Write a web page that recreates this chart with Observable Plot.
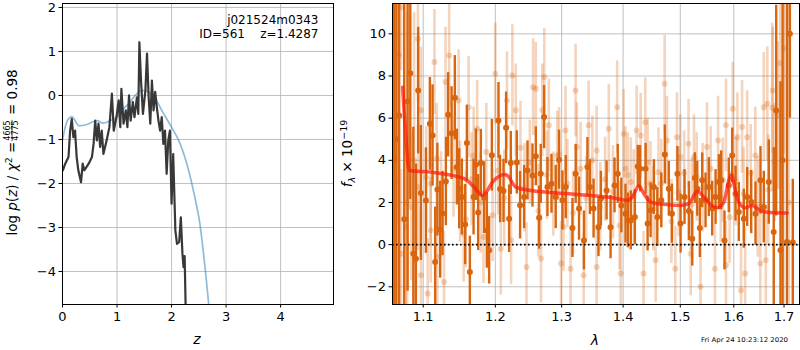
<!DOCTYPE html>
<html><head><meta charset="utf-8">
<script src="https://cdn.jsdelivr.net/npm/d3@7"></script>
<script src="https://cdn.jsdelivr.net/npm/@observablehq/plot@0.6"></script>
<style>
body{margin:0;background:#fff}
#wrap{position:relative;width:800px;height:350px;font-family:"DejaVu Sans",sans-serif;background:#fff}
#wrap > svg{position:absolute;top:0}
</style>
</head><body><div id="wrap"></div>
<script>
// ---------- Left panel data: log p(z) ----------
const pzZ = [0.007,0.05,0.11,0.14,0.17,0.20,0.23,0.26,0.29,0.34,0.37,0.40,0.48,0.54,0.57,0.60,0.63,0.66,0.69,0.72,0.75,0.81,0.86,0.906,0.94,0.99,1.03,1.06,1.08,1.12,1.16,1.19,1.22,1.25,1.29,1.32,1.365,1.39,1.41,1.44,1.475,1.52,1.55,1.58,1.61,1.64,1.67,1.70,1.73,1.76,1.79,1.82,1.85,1.88,1.91,1.94,1.97,2.0,2.03,2.07,2.10,2.14,2.17,2.20,2.22,2.24,2.26];
const pzLog = [-1.70,-1.55,-1.40,-0.80,-0.53,-0.95,-0.80,-1.40,-1.70,-1.97,-1.55,-1.70,-1.55,-1.40,-1.10,-0.57,-1.02,-0.64,-1.17,-0.80,-1.33,-1.02,-0.72,0.04,-0.80,-0.49,-0.11,-0.72,0.15,-0.64,-0.34,-0.72,0.0,-0.57,-0.15,-0.49,-0.04,-0.42,1.21,0.34,-0.42,0.11,0.95,-0.04,-0.64,0.34,-0.34,0.08,-0.27,-0.57,-0.80,-0.49,-1.10,-0.80,-1.78,-1.02,-0.80,-2.46,-1.33,-3.07,-3.37,-3.33,-2.77,-3.6,-3.9,-3.65,-4.9];
const priorZ = [0,0.05,0.11,0.17,0.23,0.29,0.45,0.63,0.75,0.875,1.0,1.09,1.24,1.365,1.46,1.58,1.70,1.82,1.98,2.13,2.28,2.40,2.51,2.60,2.68,2.72];
const priorLog = [-1.02,-0.72,-0.53,-0.48,-0.57,-0.68,-0.66,-0.57,-0.63,-0.57,-0.49,-0.34,-0.15,0.04,0.11,0.08,-0.07,-0.34,-0.68,-1.02,-1.55,-2.16,-2.84,-3.75,-4.73,-5.3];
const zTicks = [0,1,2,3,4];
const logTicks = [-4,-3,-2,-1,0,1,2];

// ---------- Right panel data: spectrum ----------
// [wavelength (micron), flux (1e-19), error]
const darkSpec = [
[1.0622,4,20],[1.0650,5,20],[1.0685,6.13,15],[1.0751,1.2,12],[1.0795,6.79,9],[1.0830,8.13,6],[1.0870,-0.43,6],[1.0904,-0.67,4.5],[1.0934,7.31,3],[1.0969,2.45,3.2],
[1.1036,2.09,2.5],[1.1089,5.73,2.2],[1.1125,5.18,2.4],[1.1160,-0.82,2.6],[1.1190,2.61,2.2],[1.1228,0.71,2.3],[1.1260,1.48,2.0],[1.1305,3.0,2.1],[1.1336,6.16,2.0],[1.1383,5.29,2.2],
[1.1428,6.97,2.0],[1.1456,3.68,1.8],[1.1488,2.65,1.9],[1.1525,2.26,1.8],[1.1571,0.95,1.9],[1.1595,4.82,1.8],[1.1637,-1.3,1.7],[1.1689,2.26,1.8],[1.1721,3.79,1.7],[1.1754,1.52,1.8],
[1.1792,3.87,1.6],[1.1839,2.23,1.7],[1.1878,0.68,1.8],[1.1911,-0.27,1.6],[1.1950,4.24,1.7],[1.2046,5.89,1.8],[1.2069,2.64,1.6],[1.2119,2.55,1.5],[1.2157,5.54,1.7],[1.2201,1.23,1.6],
[1.2226,3.87,1.5],[1.2315,3.9,1.5],[1.2364,1.87,1.6],[1.2424,2.26,1.5],[1.2475,3.52,1.4],[1.2550,3.28,1.5],[1.2601,4.19,1.4],[1.2651,1.28,1.5],[1.2676,3.36,1.4],[1.2727,6.05,1.5],
[1.2779,2.73,1.4],[1.2841,2.89,1.4],[1.2907,2.26,1.5],[1.2959,4.03,1.4],[1.3012,2.1,1.4],[1.3064,2.73,1.5],[1.3170,0.79,1.4],[1.3222,3.36,1.4],[1.3275,1.71,1.5],
[1.3354,0.2,1.4],[1.3410,3.68,1.4],[1.3450,2.73,1.3],[1.3510,1.71,1.4],[1.3590,0.83,1.4],[1.3630,2.18,1.3],[1.3724,2.57,1.4],[1.3790,0.83,1.5],[1.3856,2.81,1.3],[1.3910,3.36,1.4],
[1.3970,1.86,1.3],[1.4040,1.47,1.4],[1.4080,1.15,1.3],[1.4130,1.15,1.4],[1.4200,1.31,1.3],[1.4250,3.71,1.0],[1.4290,3.6,1.1],[1.4385,3.6,1.2],[1.4420,1.0,1.3],[1.4472,1.63,1.3],
[1.4530,2.73,1.3],[1.4590,1.31,1.4],[1.4660,2.1,1.3],[1.4723,4.28,1.4],[1.4794,2.65,1.3],[1.4850,1.47,1.4],[1.4948,3.36,1.3],[1.5005,1.0,1.4],[1.5077,2.26,1.3],[1.5156,1.59,1.4],
[1.5218,0.28,1.3],[1.5266,3.16,1.2],[1.5310,2.65,1.3],[1.5358,0.79,1.4],[1.5402,3.05,1.3],[1.5464,2.1,1.3],[1.5526,2.73,1.4],[1.5589,1.71,1.3],[1.5652,2.26,1.3],[1.5715,2.97,1.3],
[1.5759,3.05,1.4],[1.5822,0.2,1.4],[1.5904,2.81,1.3],[1.5969,4.23,1.3],[1.6033,2.42,1.3],[1.6097,1.55,1.4],[1.6195,1.23,1.4],[1.6261,2.26,1.4],[1.6340,2.02,1.5],[1.6425,1.47,1.5],
[1.6524,3.05,1.6],[1.6590,1.78,1.7],[1.6690,2.97,2.0],[1.6790,0.6,4],[1.6840,6.36,5],[1.6927,-0.27,8],[1.6970,4.0,12],[1.7060,0.12,15],[1.7120,10,4],[1.7180,0.1,3.0]
];
const lightSpec = [
[1.063,3,12],[1.068,9,8],[1.071,11.26,3],[1.071,-0.43,4],[1.077,0.84,4],[1.079,2,9],[1.084,1.79,3.5],[1.088,4,7],[1.093,9.76,3],[1.093,2.73,3],
[1.097,6.37,3],[1.097,-1.45,3],[1.104,3.2,2.4],[1.106,-2.32,2.6],[1.110,2.89,3],[1.110,0.68,2.5],[1.115,8.66,2.5],[1.118,4.1,2.6],[1.119,-0.58,2.4],[1.124,1.9,2.5],
[1.128,-1.77,2.4],[1.130,7.71,2.6],[1.135,8.97,2.5],[1.141,3.6,2.3],[1.148,6.84,2.4],[1.150,2.5,2.4],[1.155,0.52,2.3],[1.158,1.2,2.3],[1.162,6.52,2.4],[1.166,3.1,2.2],
[1.169,4.23,2.3],[1.174,5.50,2.3],[1.179,2.0,2.4],[1.183,0.36,2.2],[1.187,4.4,2.3],[1.196,1.4,2.2],[1.200,8.11,2.4],[1.204,3.5,2.1],[1.208,-0.19,2.2],[1.213,2.2,2.3],
[1.217,6.84,2.3],[1.223,0.21,2.1],[1.225,8.03,2.4],[1.230,6.37,2.2],[1.237,4.6,2.2],[1.243,2.7,2.1],[1.246,-1.06,2.1],[1.251,3.9,2.0],[1.256,7.47,2.3],[1.260,7.39,2.2],
[1.264,1.6,2.2],[1.268,-0.66,2.1],[1.270,6.37,2.2],[1.273,7.95,2.3],[1.277,3.3,2.1],[1.280,5.66,2.2],[1.287,2.4,2.0],[1.293,4.23,2.1],[1.296,4.3,2.2],[1.299,-0.9,2.0],
[1.303,0.84,2.1],[1.306,5.42,2.1],[1.309,2.9,2.1],[1.314,-1.14,2.0],[1.318,1.5,2.0],[1.322,7.31,2.2],[1.324,4.63,2.1],[1.330,3.6,2.2],[1.335,-1.45,2.0],[1.339,2.2,2.0],
[1.343,5.66,2.1],[1.349,4.0,2.1],[1.356,4.47,2.1],[1.356,-1.06,2.0],[1.362,1.8,2.1],[1.370,3.1,2.0],[1.376,5.50,2.1],[1.383,2.5,2.2],[1.390,6.52,2.2],[1.394,0.9,2.1],
[1.396,-1.37,2.0],[1.401,5.26,2.1],[1.404,3.60,2.0],[1.408,3.3,2.0],[1.413,2.97,2.1],[1.418,2.3,2.2],[1.423,5.42,2.1],[1.430,5.18,2.0],[1.435,-1.37,2.0],[1.438,5.81,2.1],
[1.442,3.9,2.1],[1.447,2.89,2.0],[1.452,1.7,2.0],[1.456,-0.74,2.0],[1.461,3.44,2.1],[1.466,2.9,2.1],[1.472,7.63,2.3],[1.476,4.94,2.1],[1.484,1.1,2.0],[1.491,-1.14,2.0],
[1.494,5.10,2.1],[1.497,2.5,2.1],[1.500,4.16,2.0],[1.507,3.4,2.0],[1.515,4.79,2.1],[1.519,-0.43,2.0],[1.521,1.9,2.2],[1.525,4.16,2.0],[1.530,3.21,2.1],[1.537,-2.0,2.1],
[1.541,2.7,2.1],[1.549,4.63,2.1],[1.556,3.6,2.0],[1.564,-1.14,2.1],[1.570,4.94,2.1],[1.575,2.2,2.1],[1.579,3.05,2.0],[1.585,5.66,2.2],[1.585,-0.98,2.1],[1.592,1.3,2.2],
[1.598,6.45,2.2],[1.604,3.0,2.1],[1.607,5.10,2.1],[1.614,-2.16,2.2],[1.616,5.58,2.2],[1.619,2.4,2.2],[1.622,-1.37,2.2],[1.626,5.10,2.2],[1.633,3.4,2.3],[1.642,4.23,2.3],
[1.647,1.8,2.4],[1.652,-0.9,2.4],[1.659,6.52,2.6],[1.663,-0.74,2.6],[1.666,6.68,2.7],[1.668,2.6,2.6],[1.676,6.5,4],[1.677,7.31,3],[1.681,3.9,2.8],[1.687,6.13,3.5],
[1.692,8.6,6],[1.700,9.3,5],[1.710,2,10]
];
const modelLam = [1.073,1.077,1.0816,1.110,1.1557,1.1697,1.1816,1.198,1.2128,1.2177,1.230,1.2524,1.2778,1.330,1.3846,1.4072,1.4156,1.427,1.4356,1.4472,1.4707,1.5004,1.5155,1.531,1.5432,1.5557,1.5683,1.581,1.5905,1.596,1.600,1.6096,1.6226,1.6357,1.652,1.672,1.7065];
const modelFlux = [7.47,5.26,3.52,3.44,3.13,2.73,2.34,3.05,3.33,3.28,2.73,2.57,2.49,2.37,2.21,2.10,2.26,2.78,2.41,2.02,1.91,1.86,1.94,2.53,2.26,1.91,1.75,2.02,3.05,3.33,2.89,2.02,1.75,1.86,1.61,1.53,1.50];
const lamTicks = [1.1,1.2,1.3,1.4,1.5,1.6,1.7];
const fluxTicks = [-2,0,2,4,6,8,10];

// ---------- drawing ----------
const wrap = document.getElementById("wrap");
const gridStyle = {stroke:"#b0b0b0", strokeOpacity:1, strokeWidth:0.8};
const baseStyle = {fontFamily:"DejaVu Sans, sans-serif", fontSize:"13px", color:"black", background:"transparent", overflow:"visible"};

const pzData = pzZ.map((z,i)=>({z, p: pzLog[i]}));
const priorData = priorZ.map((z,i)=>({z, p: priorLog[i]}));

const p1 = Plot.plot({
  width: 340, height: 350,
  marginLeft: 62, marginRight: 7, marginTop: 3, marginBottom: 46,
  style: baseStyle,
  x: {domain:[0, 4.97]},
  y: {domain:[-4.75, 2.09]},
  marks: [
    Plot.gridX(zTicks, gridStyle),
    Plot.gridY(logTicks, gridStyle),
    Plot.line(priorData, {x:"z", y:"p", stroke:"#1f77b4", strokeOpacity:0.5, strokeWidth:1.7, curve:"catmull-rom", clip:true}),
    Plot.line(pzData, {x:"z", y:"p", stroke:"#383838", strokeWidth:2.2, clip:true}),
    Plot.frame({stroke:"black", strokeWidth:1}),
    Plot.axisX({ticks:zTicks, tickSize:3.5, tickPadding:4, tickFormat:d3.format("d"), label:null}),
    Plot.axisY({ticks:logTicks, tickSize:3.5, tickPadding:3, tickFormat:d3.format("d"), label:null})
  ]
});
p1.style.left = "0px";
wrap.appendChild(p1);

const orange = "#d9650f";
const p2 = Plot.plot({
  width: 460, height: 350,
  marginLeft: 52, marginRight: 1, marginTop: 3, marginBottom: 46,
  style: baseStyle,
  x: {type:"log", domain:[1.06, 1.732]},
  y: {domain:[-2.84, 11.44]},
  marks: [
    Plot.gridX(lamTicks, gridStyle),
    Plot.gridY(fluxTicks, gridStyle),
    Plot.ruleX(lightSpec, {x:d=>d[0], y1:d=>d[1]-d[2], y2:d=>d[1]+d[2], stroke:orange, strokeOpacity:0.28, strokeWidth:2.6, clip:true}),
    Plot.dot(lightSpec, {x:d=>d[0], y:d=>d[1], r:3, fill:orange, fillOpacity:0.28, stroke:"none", clip:true}),
    Plot.ruleX(darkSpec, {x:d=>d[0], y1:d=>d[1]-d[2], y2:d=>d[1]+d[2], stroke:orange, strokeWidth:2.4, clip:true}),
    Plot.dot(darkSpec, {x:d=>d[0], y:d=>d[1], r:3, fill:orange, stroke:"none", clip:true}),
    Plot.line(modelLam.map((l,i)=>({l, f:modelFlux[i]})), {x:"l", y:"f", stroke:"#ff1a0a", strokeOpacity:0.72, strokeWidth:3.5, curve:"monotone-x", clip:true}),
    Plot.ruleY([0], {stroke:"black", strokeWidth:1.6, strokeDasharray:"1.6,2.4"}),
    Plot.frame({stroke:"black", strokeWidth:1}),
    Plot.axisX({ticks:lamTicks, tickSize:3.5, tickPadding:4, tickFormat:d3.format(".1f"), label:null}),
    Plot.axisY({ticks:fluxTicks, tickSize:3.5, tickPadding:3, tickFormat:d3.format("d"), label:null})
  ]
});
p2.style.left = "340px";
wrap.appendChild(p2);

// ---------- text overlay ----------
const ov = d3.select(wrap).append("svg")
  .attr("width", 800).attr("height", 350)
  .style("left","0px").style("pointer-events","none")
  .style("font-family","DejaVu Sans, sans-serif");

ov.append("text").attr("x",318.5).attr("y",23.5).attr("text-anchor","end")
  .style("font-size","12px").text("j021524m0343");
ov.append("text").attr("x",318.5).attr("y",37.5).attr("text-anchor","end")
  .style("font-size","12px").style("white-space","pre").attr("xml:space","preserve").text("ID=561    z=1.4287");

ov.append("text").attr("x",197).attr("y",344).attr("text-anchor","middle")
  .style("font-size","14px").style("font-style","italic").text("z");
ov.append("text").attr("x",595).attr("y",345).attr("text-anchor","middle")
  .style("font-size","14px").style("font-style","italic").text("λ");
ov.append("text").attr("x",701).attr("y",341.5)
  .style("font-size","6.5px").attr("textLength",87).attr("lengthAdjust","spacingAndGlyphs").text("Fri Apr 24 10:23:12 2020");

// left y label with fraction
{
  const g = ov.append("g");
  const fs = 13.5;
  const t1 = g.append("text").style("font-size", fs+"px");
  t1.append("tspan").text("log ");
  t1.append("tspan").style("font-style","italic").text("p");
  t1.append("tspan").text("(");
  t1.append("tspan").style("font-style","italic").text("z");
  t1.append("tspan").text(") / ");
  t1.append("tspan").style("font-style","italic").text("χ");
  t1.append("tspan").attr("dy",-5).style("font-size","9.5px").text("2");
  t1.append("tspan").attr("dy",5).text(" = ");
  const w1 = t1.node().getComputedTextLength();
  const num = g.append("text").attr("x", w1+1).attr("y",-6.3).style("font-size","8px").text("4665");
  const den = g.append("text").attr("x", w1+1).attr("y",1.6).style("font-size","8px").text("4775");
  const wn = Math.max(num.node().getComputedTextLength(), den.node().getComputedTextLength());
  g.append("line").attr("x1", w1+0.5).attr("x2", w1+wn+1.5).attr("y1",-4.6).attr("y2",-4.6)
    .attr("stroke","black").attr("stroke-width",0.7);
  const t3 = g.append("text").attr("x", w1+wn+2).style("font-size", fs+"px").style("white-space","pre").attr("xml:space","preserve").text(" = 0.98");
  const W = w1 + wn + 2 + t3.node().getComputedTextLength();
  g.attr("transform", `translate(16.7,${152.5 + W/2}) rotate(-90)`);
}
// right y label
{
  const fs = 13.5;
  const t = ov.append("text").style("font-size", fs+"px");
  t.append("tspan").style("font-style","italic").text("f");
  t.append("tspan").attr("dy",3).style("font-size","9.5px").style("font-style","italic").text("λ");
  t.append("tspan").attr("dy",-3).style("white-space","pre").attr("xml:space","preserve").text(" × 10");
  t.append("tspan").attr("dy",-5.5).style("font-size","9.5px").text("−19");
  const W = t.node().getComputedTextLength();
  t.attr("transform", `translate(352,${153.5 + W/2}) rotate(-90)`);
}
</script>
</body></html>
